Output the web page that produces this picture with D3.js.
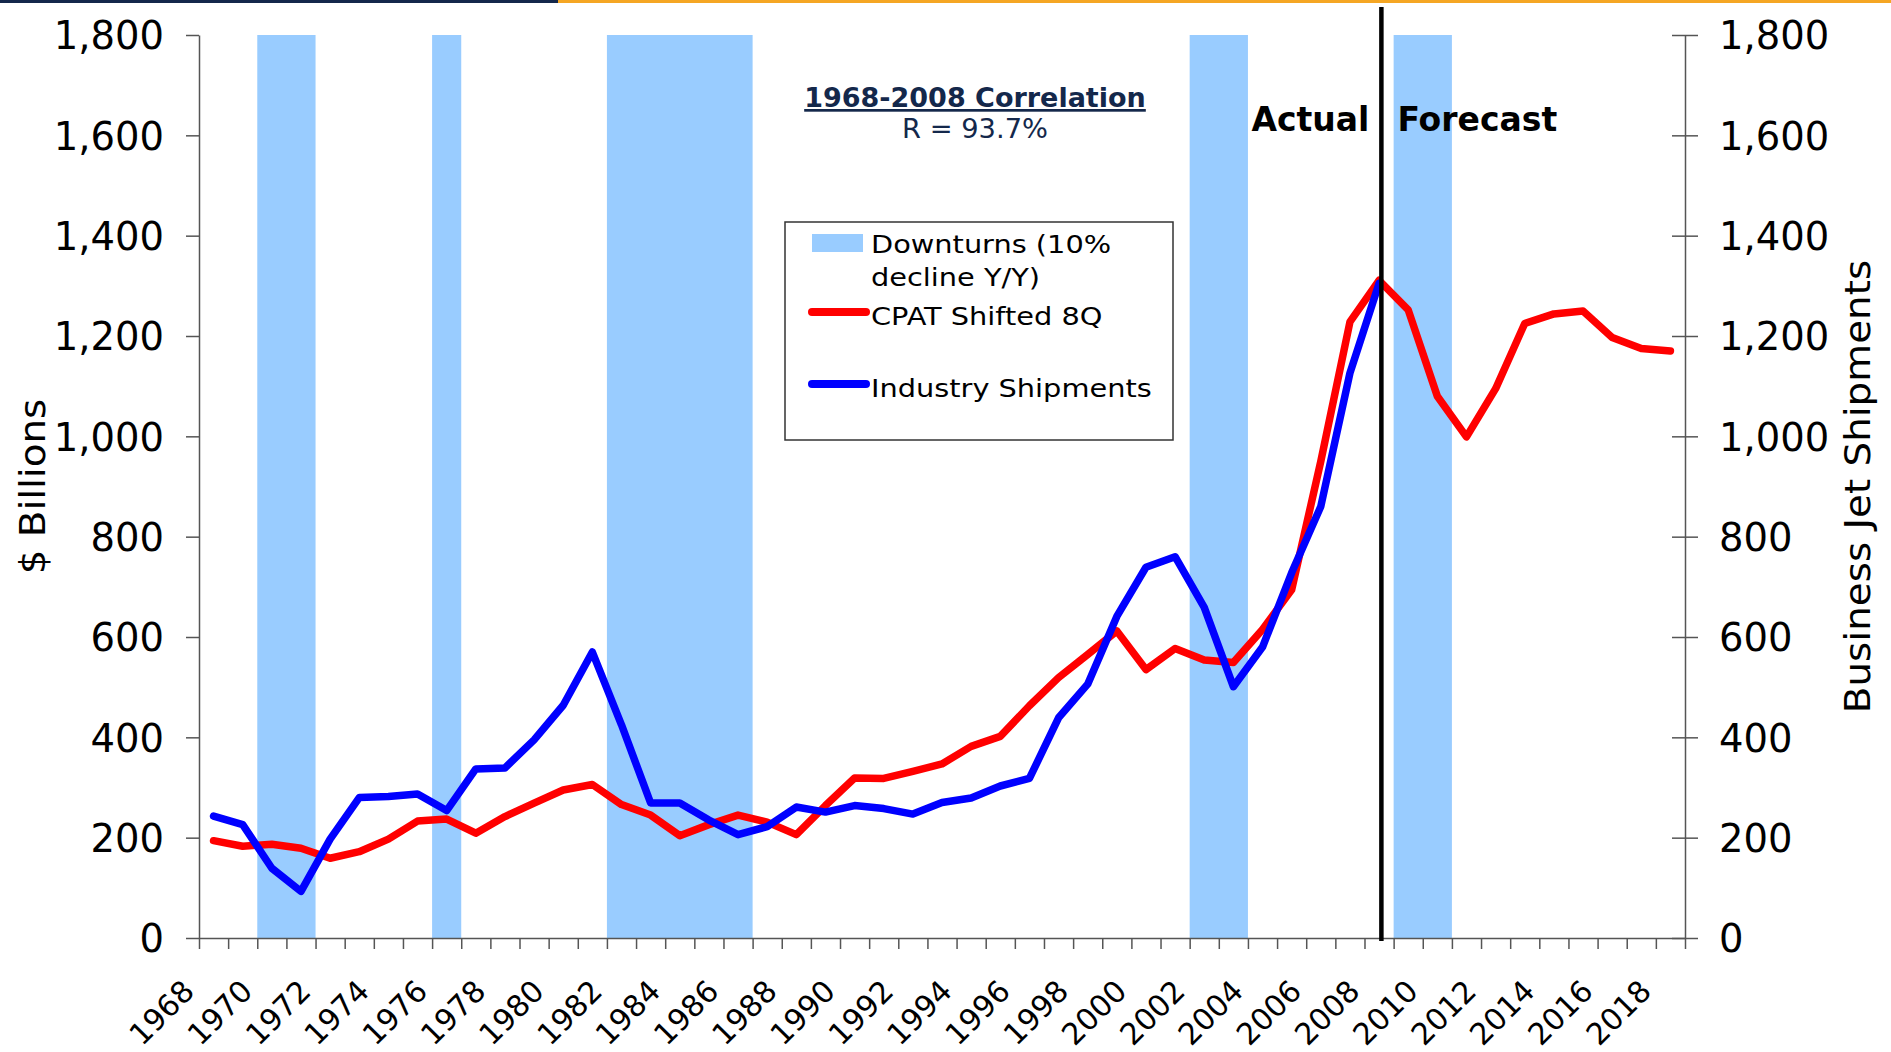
<!DOCTYPE html>
<html>
<head>
<meta charset="utf-8">
<script src="https://cdn.jsdelivr.net/npm/d3@7"></script>
<style>
    body { margin: 0; background: #fff; }
    svg { display: block; font-family: "DejaVu Sans", Verdana, sans-serif; }
</style>
</head>
<body>
<script>
// categories: one per year
const years = [1968, 1969, 1970, 1971, 1972, 1973, 1974, 1975, 1976, 1977,
    1978, 1979, 1980, 1981, 1982, 1983, 1984, 1985, 1986, 1987,
    1988, 1989, 1990, 1991, 1992, 1993, 1994, 1995, 1996, 1997,
    1998, 1999, 2000, 2001, 2002, 2003, 2004, 2005, 2006, 2007,
    2008, 2009, 2010, 2011, 2012, 2013, 2014, 2015, 2016, 2017, 2018];

// CPAT shifted 8 quarters ($ billions), 1968-2018
const cpat = [194, 183, 187, 179, 159, 172, 197, 233, 237, 209,
    242, 269, 295, 306, 266, 245, 204, 226, 245, 231,
    206, 264, 319, 318, 332, 347, 382, 402, 463, 519,
    565, 612, 535, 577, 554, 549, 615, 694, 950, 1228,
    1311, 1252, 1080, 999, 1095, 1225, 1244, 1250, 1197, 1175, 1170];

// industry shipments, 1968-2008 (actuals only)
const shipments = [243, 226, 139, 93, 197, 280, 282, 287, 254, 337,
    339, 395, 464, 570, 425, 269, 269, 235, 206, 222,
    261, 251, 264, 258, 247, 270, 279, 303, 318, 439,
    506, 641, 739, 760, 659, 501, 580, 728, 860, 1126, 1305];

// downturn years (first, last)
const downturns = [[1970, 1971], [1976, 1976], [1982, 1986], [2002, 2003], [2009, 2010]];

const yTicks = [0, 200, 400, 600, 800, 1000, 1200, 1400, 1600, 1800];
const xLabelYears = [1968, 1970, 1972, 1974, 1976, 1978, 1980, 1982, 1984, 1986,
    1988, 1990, 1992, 1994, 1996, 1998, 2000, 2002, 2004, 2006,
    2008, 2010, 2012, 2014, 2016, 2018];

const dividerYear = 2008.58;   // actual / forecast split

const width = 1891, height = 1052;
const margin = { top: 35, right: 206, bottom: 114, left: 199 };
const plotBottom = height - margin.bottom;
const plotRight = width - margin.right;

const fontFamily = '"DejaVu Sans", Verdana, sans-serif';
const navy = "#14284b";
const bandColor = "#99ccff";
const axisColor = "#555";

const svg = d3.select("body").append("svg")
    .attr("width", width)
    .attr("height", height);

const x = d3.scaleLinear()
    .domain([years[0], years[years.length - 1] + 1])
    .range([margin.left, plotRight]);
const y = d3.scaleLinear().domain([0, 1800]).range([plotBottom, margin.top]);
const y2 = d3.scaleLinear().domain([0, 1800]).range([plotBottom, margin.top]);

// header strip
svg.append("rect").attr("x", 0).attr("y", 0).attr("width", 558).attr("height", 3).attr("fill", navy);
svg.append("rect").attr("x", 558).attr("y", 0).attr("width", width - 558).attr("height", 3).attr("fill", "#f5a623");

// downturn bands
svg.append("g").selectAll("rect")
    .data(downturns)
    .join("rect")
    .attr("x", d => x(d[0]))
    .attr("width", d => x(d[1] + 1) - x(d[0]))
    .attr("y", y(1800))
    .attr("height", y(0) - y(1800))
    .attr("fill", bandColor);

// axes
const xTicks = years.concat([years[years.length - 1] + 1]);
svg.append("g")
    .attr("transform", `translate(0,${plotBottom})`)
    .call(d3.axisBottom(x).tickValues(xTicks).tickSize(11).tickSizeOuter(0).tickFormat(""))
    .call(g => g.select(".domain").attr("stroke", axisColor).attr("stroke-width", 1.5))
    .call(g => g.selectAll(".tick line").attr("stroke", axisColor).attr("stroke-width", 1.5));

svg.append("g")
    .attr("transform", `translate(0,${plotBottom})`)
    .attr("font-family", fontFamily)
    .call(d3.axisBottom(x).tickValues(xLabelYears.map(d => d + 0.5)).tickSize(0).tickFormat(d => d - 0.5))
    .attr("font-family", fontFamily)
    .call(g => g.select(".domain").remove())
    .call(g => g.selectAll(".tick text")
        .attr("x", 0).attr("y", 0).attr("dy", 0)
        .attr("text-anchor", "end")
        .attr("fill", "#000")
        .attr("font-size", 30)
        .attr("transform", "translate(-18,55) rotate(-45)"));

svg.append("g")
    .attr("transform", `translate(${margin.left},0)`)
    .call(d3.axisLeft(y).tickValues(yTicks).tickSize(13).tickSizeOuter(0).tickFormat(d3.format(",")))
    .attr("font-family", fontFamily)
    .call(g => g.select(".domain").attr("stroke", axisColor).attr("stroke-width", 1.5))
    .call(g => g.selectAll(".tick line").attr("stroke", axisColor).attr("stroke-width", 1.5))
    .call(g => g.selectAll(".tick text")
        .attr("x", -35).attr("dy", "0.36em")
        .attr("fill", "#000")
        .attr("font-size", 38.5));

svg.append("g")
    .attr("transform", `translate(${plotRight},0)`)
    .call(d3.axisRight(y2).tickValues(yTicks).tickSize(13).tickSizeOuter(0).tickFormat(d3.format(",")))
    .attr("font-family", fontFamily)
    .call(g => g.select(".domain").attr("stroke", axisColor).attr("stroke-width", 1.5))
    .call(g => g.selectAll(".tick line").attr("x1", -13).attr("stroke", axisColor).attr("stroke-width", 1.5))
    .call(g => g.selectAll(".tick text")
        .attr("x", 34).attr("dy", "0.36em")
        .attr("fill", "#000")
        .attr("font-size", 38.5));

// axis titles
svg.append("text")
    .attr("transform", `translate(45,${(margin.top + plotBottom) / 2}) rotate(-90) scale(1.08,1)`)
    .attr("text-anchor", "middle")
    .attr("font-size", 36)
    .text("$ Billions");

svg.append("text")
    .attr("transform", `translate(1870,${(margin.top + plotBottom) / 2}) rotate(-90) scale(1.08,1)`)
    .attr("text-anchor", "middle")
    .attr("font-size", 36)
    .text("Business Jet Shipments");

// series
const line = d3.line()
    .x((d, i) => x(years[i] + 0.5))
    .y(d => y(d));

svg.append("path")
    .datum(cpat)
    .attr("d", line)
    .attr("fill", "none")
    .attr("stroke", "#ff0000")
    .attr("stroke-width", 7.5)
    .attr("stroke-linejoin", "round")
    .attr("stroke-linecap", "round");

svg.append("path")
    .datum(shipments)
    .attr("d", d3.line().x((d, i) => x(years[i] + 0.5)).y(d => y2(d)))
    .attr("fill", "none")
    .attr("stroke", "#0000ff")
    .attr("stroke-width", 7.5)
    .attr("stroke-linejoin", "round")
    .attr("stroke-linecap", "round");

// actual / forecast divider
svg.append("line")
    .attr("x1", x(dividerYear)).attr("x2", x(dividerYear))
    .attr("y1", y(1800) - 28).attr("y2", y(0) + 3)
    .attr("stroke", "#000")
    .attr("stroke-width", 4.5);

svg.append("text")
    .attr("x", x(dividerYear) - 12).attr("y", 131)
    .attr("text-anchor", "end")
    .attr("font-size", 33).attr("font-weight", "bold")
    .text("Actual");

svg.append("text")
    .attr("x", x(dividerYear) + 16).attr("y", 131)
    .attr("font-size", 33).attr("font-weight", "bold")
    .text("Forecast");

// correlation note
svg.append("text")
    .attr("x", 975).attr("y", 107)
    .attr("text-anchor", "middle")
    .attr("font-size", 27).attr("font-weight", "bold")
    .attr("fill", navy)
    .style("text-decoration", "underline")
    .text("1968-2008 Correlation");

svg.append("text")
    .attr("transform", "translate(975,138) scale(1.05,1)")
    .attr("text-anchor", "middle")
    .attr("font-size", 26)
    .attr("fill", navy)
    .text("R = 93.7%");

// legend
const legend = svg.append("g").attr("transform", "translate(785,222)");
legend.append("rect")
    .attr("width", 388).attr("height", 218)
    .attr("fill", "#fff").attr("stroke", "#333").attr("stroke-width", 1.5);

legend.append("rect")
    .attr("x", 27).attr("y", 12).attr("width", 51).attr("height", 18)
    .attr("fill", bandColor);

const legendLines = [
    { color: "#ff0000", y: 90 },
    { color: "#0000ff", y: 162 }
];
legend.selectAll("line.key")
    .data(legendLines)
    .join("line")
    .classed("key", true)
    .attr("x1", 27).attr("x2", 81)
    .attr("y1", d => d.y).attr("y2", d => d.y)
    .attr("stroke", d => d.color)
    .attr("stroke-width", 8)
    .attr("stroke-linecap", "round");

const legendTexts = [
    { text: "Downturns (10%", y: 31 },
    { text: "decline Y/Y)", y: 64 },
    { text: "CPAT Shifted 8Q", y: 103 },
    { text: "Industry Shipments", y: 175 }
];
legend.selectAll("text")
    .data(legendTexts)
    .join("text")
    .attr("transform", d => `translate(86,${d.y}) scale(1.13,1)`)
    .attr("font-size", 25.5)
    .text(d => d.text);
</script>
</body>
</html>
